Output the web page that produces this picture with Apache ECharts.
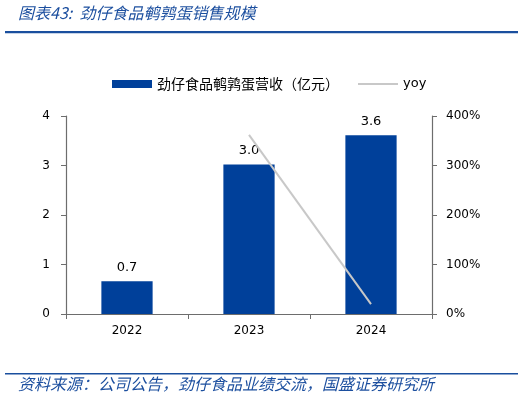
<!DOCTYPE html>
<html>
<head>
    <meta charset="utf-8">
    <title>劲仔食品鹌鹑蛋销售规模</title>
    <script src="https://cdn.jsdelivr.net/npm/echarts@6/dist/echarts.min.js"></script>
    <style>
        html, body { margin: 0; padding: 0; background: #fff; }
        #chart { width: 525px; height: 399px; }
    </style>
</head>
<body>
<div id="chart"></div>
<script type="text/javascript">
    // 数据
    var years = ['2022', '2023', '2024'];
    var revenue = [0.66, 3.02, 3.61];      // 劲仔食品鹌鹑蛋营收（亿元）
    var yoy = [null, 362, 20];             // yoy，%
    var leftTicks = [0, 1, 2, 3, 4];
    var rightTicks = [0, 100, 200, 300, 400];

    var blue = '#00409a';
    var titleBlue = '#1c4f9f';
    var numFont = 'DejaVu Sans';
    var cjkFont = 'Noto Sans CJK SC';

    var myChart = echarts.init(document.getElementById('chart'));
    myChart.setOption({
        animation: false,
        backgroundColor: '#fff',
        graphic: [
            {
                type: 'text', left: 18, top: 5,
                style: { text: '图表43:  劲仔食品鹌鹑蛋销售规模', fill: titleBlue,
                    font: 'italic 16px "' + cjkFont + '"' }
            },
            {
                type: 'rect', shape: { x: 5, y: 31, width: 513, height: 2.2 },
                style: { fill: '#1a4f9e' }
            },
            {
                type: 'rect', shape: { x: 5, y: 373, width: 513, height: 1.4 },
                style: { fill: '#1a4f9e' }
            },
            {
                type: 'text', left: 18, top: 376,
                style: { text: '资料来源：公司公告，劲仔食品业绩交流，国盛证券研究所', fill: titleBlue,
                    font: 'italic 16px "' + cjkFont + '"' }
            }
        ],
        legend: {
            top: 72,
            left: 107,
            itemGap: 18,
            itemWidth: 40,
            itemHeight: 8,
            textStyle: { fontFamily: cjkFont, fontSize: 14, color: '#000' },
            data: [
                { name: '劲仔食品鹌鹑蛋营收（亿元）', icon: 'rect' },
                { name: 'yoy', itemStyle: { opacity: 0 },
                    textStyle: { fontFamily: numFont, fontSize: 13 } }
            ]
        },
        grid: { left: 66, right: 93, top: 116, bottom: 85 },
        xAxis: {
            type: 'category',
            data: years,
            axisLine: { lineStyle: { color: '#6d6d6d', width: 1.2 } },
            axisTick: { show: true, length: 5, lineStyle: { color: '#6d6d6d' } },
            axisLabel: { color: '#000', fontFamily: numFont, fontSize: 12, margin: 11 }
        },
        yAxis: [
            {
                type: 'value', min: leftTicks[0], max: leftTicks[leftTicks.length - 1], interval: 1,
                axisLine: { show: true, lineStyle: { color: '#6d6d6d', width: 1.2 } },
                axisTick: { show: true, length: 5, lineStyle: { color: '#6d6d6d' } },
                splitLine: { show: false },
                axisLabel: { color: '#000', fontFamily: numFont, fontSize: 12, margin: 16 }
            },
            {
                type: 'value', min: rightTicks[0], max: rightTicks[rightTicks.length - 1], interval: 100,
                position: 'right',
                axisLine: { show: true, lineStyle: { color: '#6d6d6d', width: 1.2 } },
                axisTick: { show: true, length: 5, lineStyle: { color: '#6d6d6d' } },
                splitLine: { show: false },
                axisLabel: { color: '#000', fontFamily: numFont, fontSize: 12, margin: 14,
                    formatter: '{value}%' }
            }
        ],
        series: [
            {
                name: '劲仔食品鹌鹑蛋营收（亿元）',
                type: 'bar',
                data: revenue,
                barWidth: '42%',
                itemStyle: { color: blue },
                label: {
                    show: true, position: 'top', distance: 7,
                    color: '#000', fontFamily: numFont, fontSize: 13,
                    formatter: function (p) { return p.value.toFixed(1); }
                }
            },
            {
                name: 'yoy',
                type: 'line',
                yAxisIndex: 1,
                data: yoy,
                symbol: 'none',
                lineStyle: { color: '#c8c8c8', width: 2 },
                itemStyle: { color: '#c8c8c8' }
            }
        ]
    });
</script>
</body>
</html>
